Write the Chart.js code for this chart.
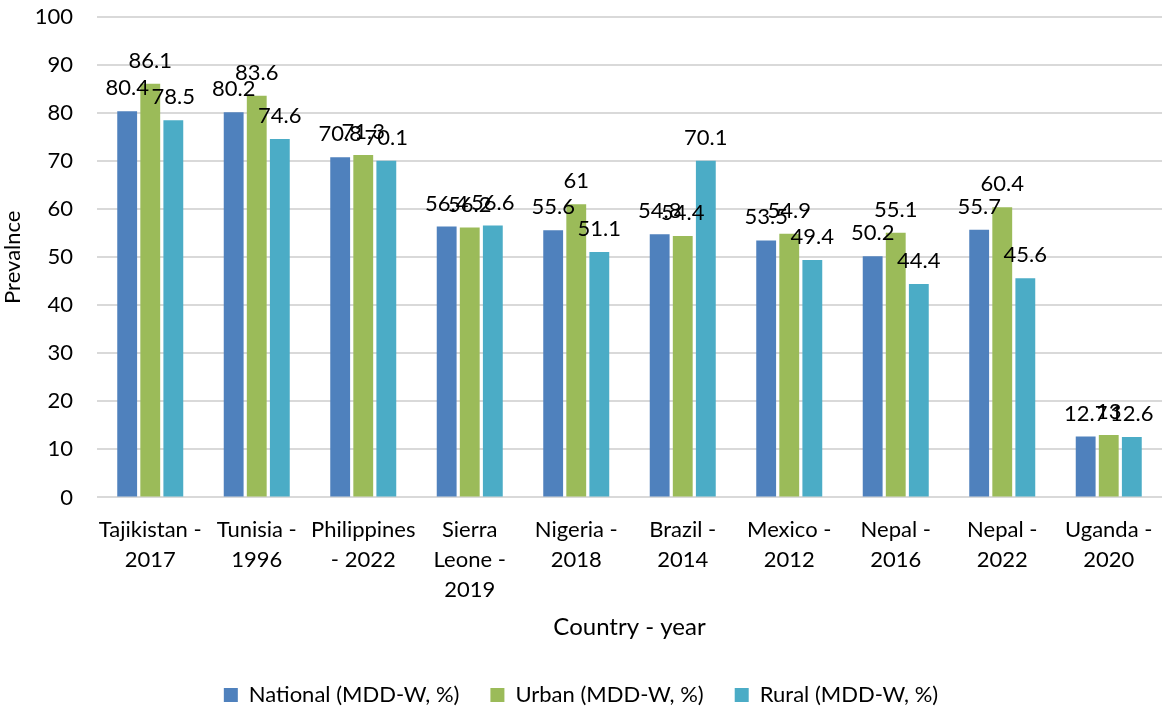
<!DOCTYPE html>
<html>
<head>
<meta charset="utf-8">
<script src="https://cdn.jsdelivr.net/npm/chart.js@4/dist/chart.umd.min.js"></script>
<style>
  html, body { margin: 0; padding: 0; background: #fff; }
  #wrap { width: 1166px; height: 709px; }
</style>
</head>
<body>
<div id="wrap"><canvas id="chart"></canvas></div>
<script>
const categories = [
    ['Tajikistan -', '2017'], ['Tunisia -', '1996'], ['Philippines', '- 2022'],
    ['Sierra', 'Leone -', '2019'], ['Nigeria -', '2018'], ['Brazil -', '2014'],
    ['Mexico -', '2012'], ['Nepal -', '2016'], ['Nepal -', '2022'], ['Uganda -', '2020']
];
const national = [80.4, 80.2, 70.8, 56.4, 55.6, 54.8, 53.5, 50.2, 55.7, 12.7];
const urban = [86.1, 83.6, 71.3, 56.2, 61, 54.4, 54.9, 55.1, 60.4, 13];
const rural = [78.5, 74.6, 70.1, 56.6, 51.1, 70.1, 49.4, 44.4, 45.6, 12.6];
const yTicks = [0, 10, 20, 30, 40, 50, 60, 70, 80, 90, 100];

const FONT = 'Lato, "Open Sans", sans-serif';

// draw value labels above each bar
const valueLabels = {
    id: 'valueLabels',
    afterDatasetsDraw(chart) {
        const ctx = chart.ctx;
        ctx.save();
        ctx.font = '22px ' + FONT;
        ctx.fillStyle = '#000';
        ctx.textAlign = 'center';
        ctx.textBaseline = 'middle';
        chart.data.datasets.forEach((ds, i) => {
            chart.getDatasetMeta(i).data.forEach((bar, j) => {
                ctx.fillText(String(ds.data[j]), bar.x, bar.y - 23);
            });
        });
        ctx.restore();
    }
};

new Chart(document.getElementById('chart'), {
    type: 'bar',
    data: {
        labels: categories,
        datasets: [
            { label: 'National (MDD-W, %)', data: national, backgroundColor: '#4F81BD' },
            { label: 'Urban (MDD-W, %)', data: urban, backgroundColor: '#9BBB59' },
            { label: 'Rural (MDD-W, %)', data: rural, backgroundColor: '#4BACC6' }
        ]
    },
    options: {
        responsive: true,
        maintainAspectRatio: false,
        animation: false,
        datasets: { bar: { categoryPercentage: 0.65, barPercentage: 0.86 } },
        layout: { padding: { top: 17, right: 4, left: 0, bottom: -7 } },
        plugins: {
            legend: {
                position: 'bottom',
                labels: { color: '#000', font: { size: 22, family: FONT }, boxWidth: 14, boxHeight: 14, padding: 31 }
            },
            tooltip: { enabled: false }
        },
        scales: {
            x: {
                grid: { display: false },
                border: { display: false },
                ticks: { color: '#000', font: { size: 22, family: FONT, lineHeight: 1.36 }, padding: 10, maxRotation: 0, autoSkip: false },
                title: { display: true, text: 'Country - year', color: '#000', font: { size: 24, family: FONT }, padding: { top: -2, bottom: 11 } }
            },
            y: {
                min: 0, max: 100,
                afterBuildTicks(axis) { axis.ticks = yTicks.map(v => ({ value: v })); },
                afterFit(axis) {
                    axis.width = 97;
                    axis.paddingTop = 0;
                    axis.paddingBottom = 0;
                },
                grid: { color: '#d9d9d9', lineWidth: 2, drawTicks: false },
                border: { display: false },
                ticks: { color: '#000', font: { size: 22, family: FONT }, padding: 24 },
                title: { display: true, text: 'Prevalnce', color: '#000', font: { size: 22, family: FONT }, padding: { top: 0, bottom: 0 } }
            }
        }
    },
    plugins: [valueLabels]
});
</script>
</body>
</html>
